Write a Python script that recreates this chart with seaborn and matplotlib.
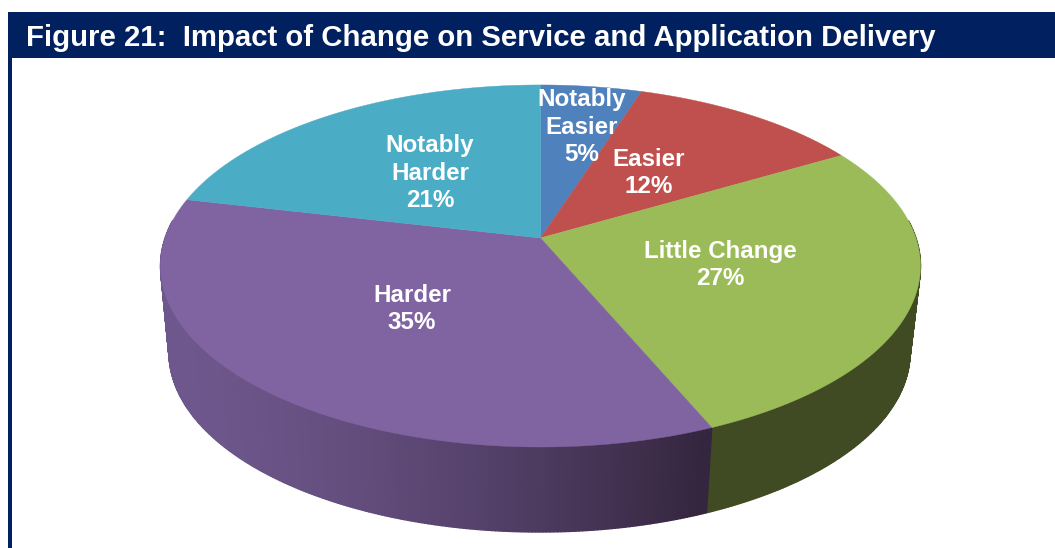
import numpy as np
import matplotlib
matplotlib.use("Agg")
import matplotlib.pyplot as plt
import seaborn as sns

categories = ["Notably Easier", "Easier", "Little Change", "Harder", "Notably Harder"]
values = [5.0, 11.6, 27.0, 35.0, 21.4]
title = "Figure 21:  Impact of Change on Service and Application Delivery"

face_colors = ["#4F81BD", "#C0504D", "#9BBB59", "#8064A2", "#4BACC6"]
side_light = ["#3A5F8C", "#8C3A38", "#404B23", "#6E578C", "#37808F"]
side_dark = ["#3A5F8C", "#8C3A38", "#404B23", "#35263F", "#37808F"]
label_xy = [(582, 127), (649, 173), (720, 265), (412, 309), (430, 173)]

sns.set_theme(style="white")
plt.rcParams["font.family"] = ["Liberation Sans", "DejaVu Sans"]

W, H = 1055, 548
fig = plt.figure(figsize=(W / 100, H / 100), dpi=100)
ax = fig.add_axes([0, 0, 1, 1])
ax.set_xlim(0, W)
ax.set_ylim(H, 0)
ax.axis("off")

K = 0.1546


def project(theta, cx, cy, rx, ry):
    """Clockwise angle from 12 o'clock -> screen point on a tilted disc."""
    u, v = np.sin(theta), np.cos(theta)
    d = 1 + K * v
    return cx + rx * u / d, cy - ry * v / d


TOP = (540.5, 238, 375.4, 176.7)
LOW = (539.5, 325, 366, 175)

ends = np.cumsum(values) / np.sum(values) * 2 * np.pi
starts = np.r_[0, ends[:-1]]


def mix(a, b, t):
    a, b = np.array(matplotlib.colors.to_rgb(a)), np.array(matplotlib.colors.to_rgb(b))
    return tuple(a + (b - a) * t)


# extruded side wall, shaded by horizontal position
for s, e, lc, dc in zip(starts, ends, side_light, side_dark):
    th = np.linspace(s, e, max(int((e - s) * 120), 2))
    for t0, t1 in zip(th[:-1], th[1:]):
        if np.cos((t0 + t1) / 2) > 0.1:
            continue
        x0, y0 = project(t0, *TOP)
        x1, y1 = project(t1, *TOP)
        x2, y2 = project(t1, *LOW)
        x3, y3 = project(t0, *LOW)
        f = np.clip(((x0 + x1) / 2 - 170) / (700 - 170), 0, 1)
        c = mix(lc, dc, f ** 1.5)
        ax.fill([x0, x1, x2, x3], [y0, y1, y2, y3], color=c, lw=1.0, zorder=2)

# top face
for s, e, c in zip(starts, ends, face_colors):
    th = np.linspace(s, e, 200)
    x, y = project(th, *TOP)
    ax.fill(np.r_[TOP[0], x], np.r_[TOP[1], y], color=c, lw=0.3, zorder=3)

# labels
for name, val, (lx, ly) in zip(categories, values, label_xy):
    parts = name.split(" ")
    if name == "Little Change":
        parts = [name]
    ax.text(lx, ly, "\n".join(parts + [f"{val:.0f}%"]), color="white", fontsize=17.4,
            fontweight="bold", ha="center", va="center", linespacing=1.24, zorder=5)

# header and frame
ax.fill_between([8, W], 12, 58, color="#002060", lw=0, zorder=6)
ax.fill_between([8, 12], 58, H, color="#002060", lw=0, zorder=6)
ax.text(26, 38, title, color="white", fontsize=21.15, fontweight="bold",
        ha="left", va="center", zorder=7)

fig.savefig("out.png", dpi=100, facecolor="white")
